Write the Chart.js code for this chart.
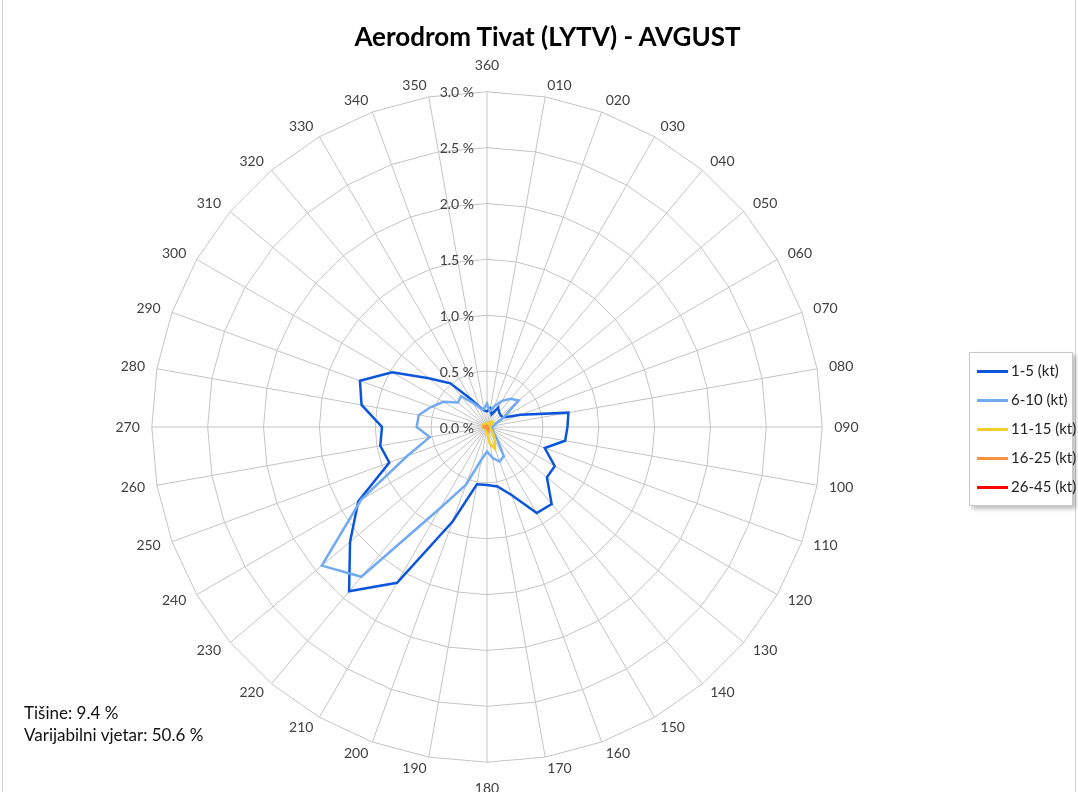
<!DOCTYPE html>
<html>
<head>
<meta charset="utf-8">
<script src="https://cdn.jsdelivr.net/npm/chart.js@4.4.1/dist/chart.umd.min.js"></script>
<style>
    html, body { margin: 0; padding: 0; background: #fff; overflow: hidden; }
    body { width: 1078px; height: 792px; position: relative; font-family: Lato, 'Open Sans', sans-serif; }
    #wrap { position: absolute; left: 0; top: 0; width: 1078px; height: 800px; }
    #frame { position: absolute; left: 2px; top: -2px; width: 1072px; height: 800px; border-left: 1px solid #d0d0d0; border-right: 1px solid #d0d0d0; pointer-events: none; }
    #title { position: absolute; left: 0; width: 1095px; top: 20px; text-align: center; font-weight: bold; font-size: 26px; color: #000; }
    #legend { position: absolute; left: 969px; top: 352px; width: 102px; height: 152px; border: 1px solid #c8c8c8; background: #fff; box-shadow: 3px 3px 4px rgba(0,0,0,0.25); }
    .item { position: absolute; left: 7px; height: 20px; font-size: 15px; color: #222; line-height: 20px; white-space: nowrap; }
    .item span { display: inline-block; width: 31px; height: 0; border-top: 3px solid; vertical-align: middle; margin-right: 3px; position: relative; top: -1px; }
    #notes { position: absolute; left: 24px; top: 702px; font-size: 17px; line-height: 22px; color: #111; }
</style>
</head>
<body>
<div id="wrap"><canvas id="roseChart"></canvas></div>
<div id="frame"></div>
<div id="title">Aerodrom Tivat (LYTV) - AVGUST</div>
<div id="legend"></div>
<div id="notes">Tišine: 9.4 %<br>Varijabilni vjetar: 50.6 %</div>
<script>
// Smjerovi (clockwise od sjevera)
const directions = ['360', '010', '020', '030', '040', '050', '060', '070', '080', '090', '100', '110',
    '120', '130', '140', '150', '160', '170', '180', '190', '200', '210', '220', '230',
    '240', '250', '260', '270', '280', '290', '300', '310', '320', '330', '340', '350'];

// Učestalost (%) po klasi brzine
const kt1_5 = [0.14, 0.17, 0.12, 0.20, 0.17, 0.16, 0.17, 0.32, 0.74, 0.72, 0.71, 0.55,
    0.70, 0.70, 0.90, 0.89, 0.65, 0.54, 0.52, 0.52, 0.90, 1.61, 1.92, 1.60,
    1.33, 0.93, 0.97, 0.94, 1.14, 1.21, 0.98, 0.68, 0.51, 0.29, 0.19, 0.15];
const kt6_10 = [0.21, 0.14, 0.20, 0.27, 0.33, 0.37, 0.17, 0.08, 0.06, 0.05, 0.05, 0.05,
    0.06, 0.08, 0.14, 0.30, 0.33, 0.28, 0.22, 0.30, 0.55, 0.84, 1.75, 1.93,
    1.30, 0.76, 0.52, 0.63, 0.62, 0.53, 0.45, 0.34, 0.36, 0.25, 0.18, 0.16];
const kt11_15 = [0.03, 0.03, 0.04, 0.05, 0.06, 0.07, 0.06, 0.03, 0.02, 0.02, 0.02, 0.03,
    0.04, 0.06, 0.09, 0.14, 0.21, 0.15, 0.05, 0.03, 0.03, 0.02, 0.02, 0.02,
    0.02, 0.02, 0.03, 0.04, 0.04, 0.04, 0.04, 0.03, 0.03, 0.02, 0.02, 0.02];
const kt16_25 = [0.01, 0.01, 0.01, 0.01, 0.01, 0.01, 0.01, 0.01, 0.01, 0.01, 0.01, 0.01,
    0.01, 0.01, 0.01, 0.02, 0.03, 0.02, 0.01, 0.01, 0.01, 0.01, 0.01, 0.01,
    0.01, 0.01, 0.02, 0.03, 0.03, 0.02, 0.01, 0.01, 0.01, 0.01, 0.01, 0.01];
const kt26_45 = [0, 0, 0, 0, 0, 0, 0, 0, 0, 0, 0, 0,
    0, 0, 0, 0, 0, 0, 0, 0, 0, 0, 0, 0,
    0, 0, 0, 0, 0, 0, 0, 0, 0, 0, 0, 0];

const tickValues = [0, 0.5, 1.0, 1.5, 2.0, 2.5, 3.0];
const tickLabels = ['0.0 %', '0.5 %', '1.0 %', '1.5 %', '2.0 %', '2.5 %', '3.0 %'];

const seriesNames = ['1-5 (kt)', '6-10 (kt)', '11-15 (kt)', '16-25 (kt)', '26-45 (kt)'];
const seriesColors = ['#0b55dc', '#72aaf2', '#f2d027', '#fb923f', '#ff0000'];

// legenda (HTML)
const legendEl = document.getElementById('legend');
seriesNames.forEach(function(name, i) {
    const row = document.createElement('div');
    row.className = 'item';
    row.style.top = (7 + i * 29) + 'px';
    row.innerHTML = '<span style="border-color:' + seriesColors[i] + '"></span>' + name;
    legendEl.appendChild(row);
});

// oznake skale i smjerova, crtane kao u Excelu (vertikalno centrirane)
const labelPlugin = {
    id: 'labelPlugin',
    afterDraw: function(chart) {
        const scale = chart.scales.r;
        const ctx = chart.ctx;
        ctx.save();
        ctx.font = "14px Lato, 'Open Sans', sans-serif";
        ctx.fillStyle = '#404040';
        ctx.textBaseline = 'middle';

        ctx.textAlign = 'right';
        tickValues.forEach(function(v, i) {
            const d = scale.getDistanceFromCenterForValue(v);
            ctx.fillText(tickLabels[i], scale.xCenter - 13, scale.yCenter - d + 1);
        });

        directions.forEach(function(lbl, i) {
            const deg = i * 10;
            let pos;
            if (deg === 0 || deg === 180) {
                ctx.textAlign = 'center';
                pos = scale.getPointPosition(i, scale.drawingArea + 26);
            } else {
                ctx.textAlign = deg < 180 ? 'left' : 'right';
                pos = scale.getPointPosition(i, scale.drawingArea + 12);
            }
            ctx.fillText(lbl, pos.x, pos.y);
        });
        ctx.restore();
    }
};

const datasets = [kt1_5, kt6_10, kt11_15, kt16_25, kt26_45].map(function(values, i) {
    return {
        label: seriesNames[i],
        data: values,
        borderColor: seriesColors[i],
        backgroundColor: seriesColors[i],
        borderWidth: 2.5,
        pointRadius: 0,
        fill: false,
        tension: 0
    };
}).reverse();

Chart.defaults.font.family = "Lato, 'Open Sans', sans-serif";

new Chart(document.getElementById('roseChart'), {
    type: 'radar',
    data: {
        labels: directions,
        datasets: datasets
    },
    options: {
        responsive: true,
        maintainAspectRatio: false,
        animation: false,
        layout: {
            padding: { top: 61, right: 104, left: 0, bottom: 7 }
        },
        plugins: {
            legend: { display: false },
            title: { display: false },
            tooltip: { enabled: false }
        },
        scales: {
            r: {
                min: 0,
                max: 3.0,
                beginAtZero: true,
                ticks: {
                    display: false,
                    stepSize: 0.5
                },
                grid: {
                    color: '#c4c4c4',
                    lineWidth: 1
                },
                angleLines: {
                    color: '#c4c4c4',
                    lineWidth: 1
                },
                pointLabels: {
                    // kept for the layout fit, drawn by labelPlugin
                    color: 'rgba(0,0,0,0)',
                    padding: 14,
                    font: { size: 14 }
                }
            }
        }
    },
    plugins: [labelPlugin]
});
</script>
</body>
</html>
